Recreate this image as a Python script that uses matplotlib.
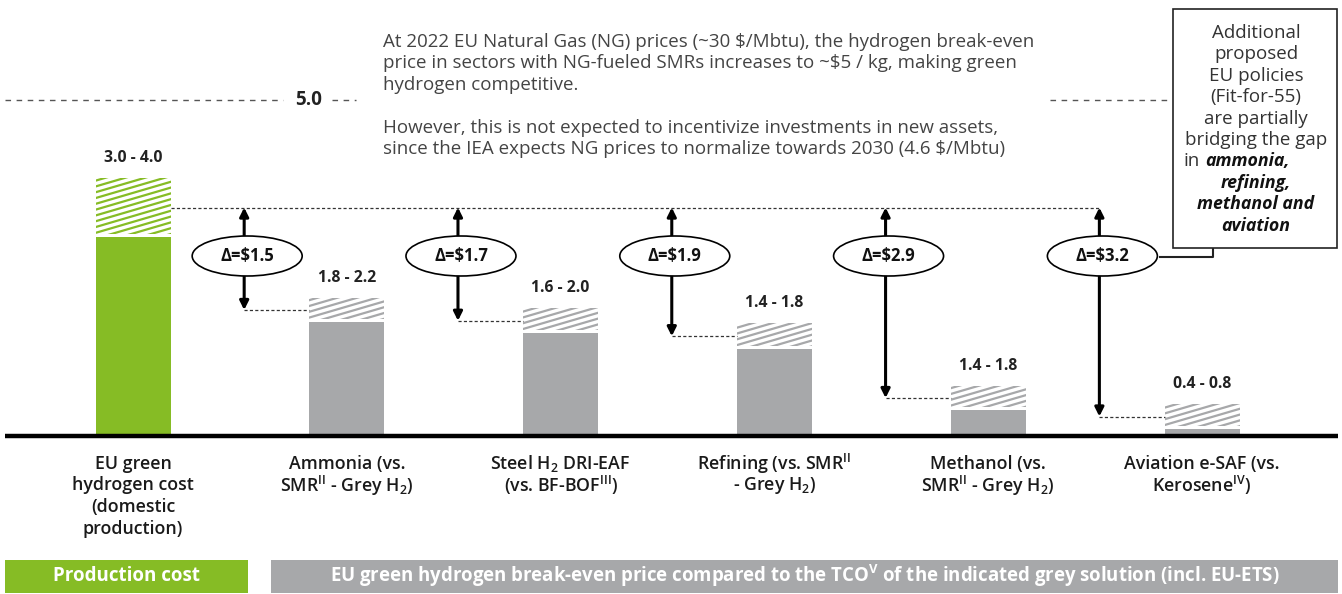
import matplotlib
matplotlib.use('Agg')
import matplotlib.pyplot as plt
from matplotlib.patches import Rectangle, Ellipse
from matplotlib.lines import Line2D
import numpy as np

plt.rcParams['font.family'] = ['Open Sans', 'DejaVu Sans']
plt.rcParams['mathtext.fontset'] = 'custom'
plt.rcParams['mathtext.rm'] = 'Open Sans'
plt.rcParams['mathtext.bf'] = 'Open Sans:bold'
plt.rcParams['mathtext.it'] = 'Open Sans:italic'
plt.rcParams['mathtext.default'] = 'regular'

# ---------------- data ----------------
categories = [
    ['EU green', 'hydrogen cost', '(domestic', 'production)'],
    ['Ammonia (vs.', 'SMR$^{II}$ - Grey H$_{2}$)'],
    ['Steel H$_{2}$ DRI-EAF', '(vs. BF-BOF$^{III}$)'],
    ['Refining (vs. SMR$^{II}$', '- Grey H$_{2}$)'],
    ['Methanol (vs.', 'SMR$^{II}$ - Grey H$_{2}$)'],
    ['Aviation e-SAF (vs.', 'Kerosene$^{IV}$)'],
]
# drawn heights (low = solid part, high = top of hatched range)
low_vals = [2.96, 1.70, 1.53, 1.29, 0.39, 0.10]
high_vals = [3.84, 2.05, 1.90, 1.68, 0.74, 0.48]
range_labels = ['3.0 - 4.0', '1.8 - 2.2', '1.6 - 2.0', '1.4 - 1.8', '1.4 - 1.8', '0.4 - 0.8']
delta_labels = [r'Δ=\$1.5', r'Δ=\$1.7', r'Δ=\$1.9', r'Δ=\$2.9', r'Δ=\$3.2']
ng_price_level = 5.0
ng_label = '5.0'

GREEN = '#86BC25'
GREY = '#A7A8AA'

W, H = 1342, 594
fig = plt.figure(figsize=(W / 100, H / 100), dpi=100)
ax = fig.add_axes([0, 0, 1, 1])
ax.axis('off')

# pixel -> data helpers (layout only)
X0P, DXP, BASEP, SYP = 133.0, 213.8, 436.0, 67.2
def X(px):
    return (px - X0P) / DXP
def Y(py):
    return (BASEP - py) / SYP
def DXw(px):
    return px / DXP
def DYh(py):
    return py / SYP

ax.set_xlim(X(0), X(W))
ax.set_ylim(Y(H), Y(0))

xs = np.arange(len(categories))
bw = DXw(75)
colors = [GREEN] + [GREY] * (len(categories) - 1)

# solid bars
ax.bar(xs, low_vals, width=bw, color=colors, zorder=2)

# hatched range segments (shallow diagonal lines)
gap = DYh(3)
for i, (x, lo, hi, c) in enumerate(zip(xs, low_vals, high_vals, colors)):
    rect = Rectangle((x - bw / 2, lo + gap), bw, hi - lo - gap, facecolor='none',
                     edgecolor='none')
    ax.add_patch(rect)
    rise = DYh(22)
    step = DYh(5.8)
    ys = np.arange(lo + gap - rise, hi + step, step)
    for y0 in ys:
        ln = Line2D([x - bw / 2, x + bw / 2], [y0, y0 + rise], color=c, lw=1.6, zorder=2)
        ax.add_line(ln)
        ln.set_clip_path(rect)
    ax.text(x, hi + DYh(20), range_labels[i], ha='center', va='center',
            fontsize=11.3, fontweight='bold', color='#222222')

# baseline
ax.plot([X(5), X(1338)], [0, 0], color='black', lw=3.2, solid_capstyle='butt', zorder=4)

# delta arrows
green_mid = (low_vals[0] + high_vals[0]) / 2
arrow_x = [x - 0.48 for x in xs[1:]]
ax.plot([bw / 2, arrow_x[-1]], [green_mid, green_mid], color='#333333', lw=0.9,
        dashes=(2.5, 1.8), zorder=1)
ell_y = Y(256)
for ax_x, x, lo, hi, lab in zip(arrow_x, xs[1:], low_vals[1:], high_vals[1:], delta_labels):
    mid = (lo + hi) / 2
    ax.plot([ax_x, x - bw / 2], [mid, mid], color='#333333', lw=0.9, dashes=(2.5, 1.8), zorder=1)
    ax.annotate('', xy=(ax_x, green_mid), xytext=(ax_x, mid),
                arrowprops=dict(arrowstyle='<|-|>', lw=2.2, color='black',
                                mutation_scale=13, shrinkA=0, shrinkB=0), zorder=3)
    ax.add_patch(Ellipse((ax_x + DXw(3), ell_y), DXw(110), DYh(40), facecolor='white',
                         edgecolor='black', lw=1.2, zorder=5))
    ax.text(ax_x + DXw(3), ell_y, lab, ha='center', va='center', fontsize=12,
            fontweight='bold', color='#111111', zorder=6)

# 5.0 dashed reference
ax.plot([X(5), X(283)], [ng_price_level] * 2, color='#555555', lw=1.0, dashes=(4, 4))
ax.text(X(309), ng_price_level, ng_label, ha='center', va='center', fontsize=13.5,
        fontweight='bold', color='#222222')
ax.plot([X(332), X(356)], [ng_price_level] * 2, color='#555555', lw=1.0, dashes=(4, 4))
ax.plot([X(1050), X(1172)], [ng_price_level] * 2, color='#555555', lw=1.0, dashes=(4, 4))

# top annotation text
top_lines = [
    r'At 2022 EU Natural Gas (NG) prices (~30 \$/Mbtu), the hydrogen break-even',
    r'price in sectors with NG-fueled SMRs increases to ~\$5 / kg, making green',
    r'hydrogen competitive.',
    r'However, this is not expected to incentivize investments in new assets,',
    r'since the IEA expects NG prices to normalize towards 2030 (4.6 \$/Mbtu)',
]
top_y = [42, 63.5, 85, 128, 149.5]
for t, yp in zip(top_lines, top_y):
    ax.text(X(383), Y(yp), t, ha='left', va='center', fontsize=13.5, color='#444444')

# callout box
ax.add_patch(Rectangle((X(1173), Y(248)), DXw(1337 - 1173), DYh(248 - 9), facecolor='white',
                       edgecolor='#222222', lw=1.2, zorder=5))
ax.plot([X(1160), X(1213), X(1213)], [Y(257), Y(257), Y(248)], color='#222222', lw=1.5,
        zorder=4)
box_lines = [
    ('Additional', 'normal', 'normal'),
    ('proposed', 'normal', 'normal'),
    ('EU policies', 'normal', 'normal'),
    ('(Fit-for-55)', 'normal', 'normal'),
    ('are partially', 'normal', 'normal'),
    ('bridging the gap', 'normal', 'normal'),
    (None, None, None),
    ('refining,', 'bold', 'italic'),
    ('methanol and', 'bold', 'italic'),
    ('aviation', 'bold', 'italic'),
]
for i, (t, w, s) in enumerate(box_lines):
    yp = 33 + i * 21.4
    if t is None:
        ax.text(X(1200), Y(yp), 'in', ha='right', va='center', fontsize=13.5,
                color='#333333', zorder=6)
        ax.text(X(1205), Y(yp), 'ammonia,', ha='left', va='center', fontsize=12.8,
                fontweight='bold', fontstyle='italic', color='#111111', zorder=6)
        continue
    ax.text(X(1256), Y(yp), t, ha='center', va='center',
            fontsize=12.8 if w == 'bold' else 13.5, fontweight=w,
            fontstyle=s, color='#111111' if w == 'bold' else '#333333', zorder=6)

# category labels
for x, lines in zip(xs, categories):
    for j, t in enumerate(lines):
        ax.text(x, Y(464 + j * 21.5), t, ha='center', va='center', fontsize=12.8,
                fontweight='semibold', color='#1A1A1A')

# bottom banners
ax.add_patch(Rectangle((X(5), Y(593)), DXw(248 - 5), DYh(593 - 560), facecolor=GREEN,
                       edgecolor='none'))
ax.text(X(126), Y(576), 'Production cost', ha='center', va='center', fontsize=13.5,
        fontweight='bold', color='white')
ax.add_patch(Rectangle((X(271), Y(593)), DXw(1338 - 271), DYh(593 - 560), facecolor=GREY,
                       edgecolor='none'))
ax.text(X(805), Y(576),
        'EU green hydrogen break-even price compared to the TCO$^{V}$ of the indicated grey solution (incl. EU-ETS)',
        ha='center', va='center', fontsize=13.4, fontweight='bold', color='white')

fig.savefig('out.png', dpi=100)
